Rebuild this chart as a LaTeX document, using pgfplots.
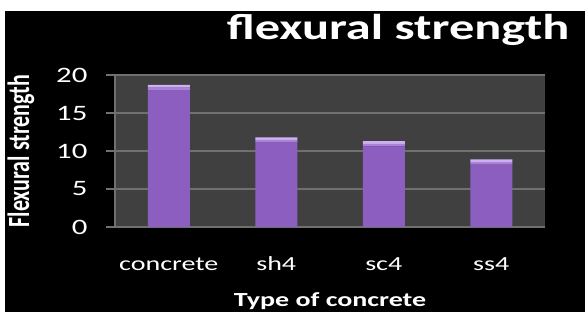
\documentclass[border=0pt]{standalone}
\usepackage{fontspec}
\setmainfont{Carlito}
\usepackage{graphicx}
\usepackage{pgfplots}
\pgfplotsset{compat=1.18}
\definecolor{plotbg}{RGB}{64,64,64}
\definecolor{gridc}{RGB}{112,112,112}
\definecolor{barc}{RGB}{139,94,192}
\definecolor{barmid}{RGB}{170,130,220}
\definecolor{barhi}{RGB}{205,175,242}
\newcommand{\sx}[1]{\scalebox{1.4}[1]{#1}}
\begin{document}
\begin{tikzpicture}[x=1pt,y=1pt]
\fill[white] (0,0) rectangle (585,314);
\fill[black] (5,2) rectangle (585,303);
\begin{axis}[
  at={(115pt,87pt)}, anchor=south west,
  scale only axis, width=430pt, height=152pt,
  xmin=-0.5, xmax=3.5, ymin=0, ymax=20,
  axis background/.style={fill=plotbg},
  ybar stacked, bar width=42pt,
  xtick={0,1,2,3},
  xticklabels={\sx{concrete},\sx{sh4},\sx{sc4},\sx{ss4}},
  ytick={0,5,10,15,20},
  yticklabel={\sx{\pgfmathprintnumber{\tick}}},
  /pgf/number format/assume math mode=true,
  ymajorgrids, grid style={gridc, line width=1.5pt},
  axis x line*=bottom, axis y line*=left,
  axis line style={gridc, line width=1.5pt},
  tick align=outside, major tick length=9pt,
  xtick style={draw=none},
  ytick style={gridc, line width=1.5pt},
  ticklabel style={font=\fontsize{22}{26}\selectfont, white},
  yticklabel style={xshift=-15pt},
  xticklabel style={anchor=base, yshift=-34pt, font=\fontsize{20}{24}\selectfont},
  title={\sx{flexural strength}},
  title style={font=\fontsize{36}{40}\selectfont\bfseries, white, at={(axis description cs:1.0651,1.197)}, anchor=base east},
  xlabel={\sx{Type of concrete}},
  xlabel style={font=\fontsize{20}{24}\selectfont\bfseries, white, at={(axis description cs:0.5,0)}, anchor=base, yshift=-79pt},
  ylabel={\scalebox{1}[1.4]{Flexural strength}},
  ylabel style={font=\fontsize{22}{26}\selectfont\bfseries, white, at={(axis description cs:-0.2000,0.5)}, anchor=base},
]
% bar body (value minus top highlight)
\addplot[draw=none, fill=barc] coordinates {(0,18.0) (1,11.1) (2,10.6) (3,8.2)};
% highlight layers (0.35 + 0.35) -> totals 18.7, 11.8, 11.3, 8.9
\addplot[draw=none, fill=barmid] coordinates {(0,0.35) (1,0.35) (2,0.35) (3,0.35)};
\addplot[draw=none, fill=barhi] coordinates {(0,0.35) (1,0.35) (2,0.35) (3,0.35)};
\end{axis}
\pgfresetboundingbox
\useasboundingbox (0,0) rectangle (585,314);
\end{tikzpicture}
\end{document}
